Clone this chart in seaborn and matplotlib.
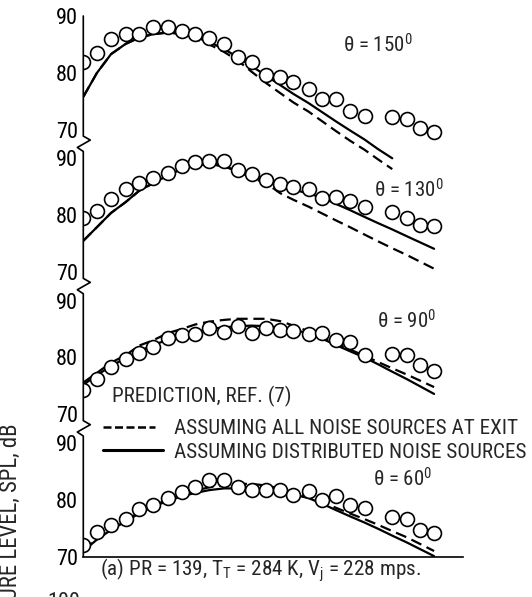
import numpy as np
import pandas as pd
import matplotlib
matplotlib.use("Agg")
import matplotlib.pyplot as plt
from matplotlib import font_manager
from matplotlib.lines import Line2D
import seaborn as sns

# ---------------- data ----------------
freq = [40, 50, 63, 80, 100, 125, 160, 200, 250, 315, 400, 500, 630, 800,
        1000, 1250, 1600, 2000, 2500, 3150, 4000, 5000, 6300, 8000, 10000, 12500]
angles = [150, 130, 90, 60]

meas_150 = [81.9, 83.5, 85.9, 86.9, 86.9, 88.1, 88.1, 87.4, 86.8, 86.2, 85.1, 82.8, 81.9,
            79.6, 79.3, 78.4, 77.1, 75.4, 75.4, 73.3, 72.5, np.nan, 72.3, 71.9, 70.4, 69.7]
meas_130 = [79.5, 80.8, 82.9, 84.6, 85.6, 86.5, 87.5, 88.6, 89.3, 89.5, 89.6, 88.0, 87.2,
            86.2, 85.5, 85.0, 84.6, 83.1, 83.2, 82.5, 81.5, np.nan, 80.5, 79.5, 78.3, 78.1]
meas_90 = [74.3, 76.3, 78.4, 79.7, 80.8, 81.8, 83.4, 84.0, 84.2, 85.2, 84.5, 85.5, 84.3,
           85.2, 84.9, 84.7, 84.2, 84.3, 83.1, 82.7, 80.4, np.nan, 80.6, 80.4, 78.7, 77.6]
meas_60 = [72.1, 74.4, 75.6, 76.6, 78.4, 79.1, 80.3, 81.3, 82.2, 83.4, 83.5, 82.2, 81.8,
           81.8, 81.8, 80.9, 81.5, 80.0, 80.6, 79.1, 78.6, np.nan, 76.9, 76.6, 74.7, 74.2]

# prediction: all noise sources at exit (dashed)
exit_150 = [75.8, 80.0, 83.3, 85.1, 86.2, 86.8, 87.1, 86.8, 86.0, 85.0, 83.7, 82.2, 80.2,
            78.2, 76.5, 74.8, 73.2, 71.5, 69.8, 68.1, 66.5, 64.8, 63.1]
exit_130 = [75.5, 77.9, 80.4, 82.3, 84.3, 85.6, 87.0, 88.1, 88.8, 89.0, 88.6, 87.7, 86.6,
            85.6, 83.9, 82.7, 81.5, 80.3, 79.1, 77.9, 76.6, 75.4, 74.2, 73.0, 71.8, 70.6]
exit_90 = [75.6, 77.3, 79.1, 80.4, 82.1, 83.0, 84.3, 85.0, 85.8, 86.3, 86.6, 86.8, 86.8,
           86.8, 86.4, 85.6, 84.6, 83.6, 82.5, 81.4, 80.3, 79.2, 78.1, 77.0, 75.9, 74.8]
exit_60 = [71.2, 73.2, 74.9, 76.4, 77.8, 79.0, 80.0, 80.9, 81.6, 82.2, 82.6, 82.8, 82.8,
           82.5, 82.0, 81.3, 80.5, 79.6, 78.6, 77.6, 76.6, 75.6, 74.5, 73.4, 72.2, 71.0]

# prediction: distributed noise sources (solid)
dist_150 = [75.8, 80.0, 83.3, 85.1, 86.2, 86.8, 87.1, 86.9, 86.3, 85.4, 84.2, 82.8, 81.2,
            79.5, 77.9, 76.3, 74.7, 73.1, 71.5, 69.9, 68.3, 66.6, 65.0]
dist_130 = [75.5, 77.9, 80.4, 82.3, 84.3, 85.6, 87.0, 88.1, 88.8, 89.0, 88.6, 87.8, 86.9,
            86.0, 85.2, 84.5, 83.8, 83.1, 82.0, 80.9, 79.7, 78.6, 77.5, 76.3, 75.2, 74.1]
dist_90 = [75.2, 76.9, 78.5, 79.9, 81.1, 82.2, 83.1, 83.9, 84.5, 85.0, 85.3, 85.5, 85.6,
           85.5, 85.2, 84.8, 84.3, 83.3, 82.2, 81.1, 80.0, 78.8, 77.5, 76.2, 74.9, 73.6]
dist_60 = [71.0, 73.0, 74.7, 76.2, 77.6, 78.8, 79.8, 80.6, 81.2, 81.7, 82.0, 82.0, 82.0,
           81.7, 81.4, 80.9, 80.3, 79.3, 78.2, 77.1, 76.0, 74.9, 73.7, 72.5, 71.3, 70.1]

y_ticks = [90, 80, 70]
x_ticks = [100, 200, 400, 1000, 2000, 4000, 10000, 20000]
panel_shift = 25.0

measured = [meas_150, meas_130, meas_90, meas_60]
exit_pred = [exit_150, exit_130, exit_90, exit_60]
dist_pred = [dist_150, dist_130, dist_90, dist_60]

# ---------------- fonts ----------------
sns.set_style("white")
entries = font_manager.fontManager.ttflist
names = {f.name for f in entries}
family, scale = "DejaVu Sans", 0.78
for p in ["Roboto Condensed", "Liberation Sans Narrow", "Arial Narrow",
          "Open Sans Condensed", "Noto Sans Condensed", "DejaVu Sans Condensed"]:
    if p in names:
        family, scale = p, 1.0
        break

plt.rcParams["font.family"] = [family, "DejaVu Sans"]
plt.rcParams["mathtext.fontset"] = "custom"
plt.rcParams["mathtext.rm"] = family
plt.rcParams["mathtext.it"] = family

fs = 15.2 * scale
fs_theta = 15 * scale
fs_tick = 16 * scale
fs_ylab = 16.4 * scale

W, H = 532, 597
fig = plt.figure(figsize=(W / 100, H / 100), dpi=100)
x0, x1 = 83.3, 462.8
ytop, ybot = 16.0, 556.7
ax = fig.add_axes([x0 / W, 1 - ybot / H, (x1 - x0) / W, (ybot - ytop) / H])

for k, ang in enumerate(angles):
    off = panel_shift * k
    n_e = len(exit_pred[k])
    d_exit = pd.DataFrame({"freq": freq[:n_e], "y": np.array(exit_pred[k]) - off})
    n_d = len(dist_pred[k])
    d_dist = pd.DataFrame({"freq": freq[:n_d], "y": np.array(dist_pred[k]) - off})
    d_meas = pd.DataFrame({"freq": freq, "y": np.array(measured[k]) - off}).dropna()
    sns.lineplot(data=d_exit, x="freq", y="y", ax=ax, color="black", lw=1.6,
                 linestyle=(0, (5, 2.6)), estimator=None, sort=False, zorder=2)
    sns.lineplot(data=d_dist, x="freq", y="y", ax=ax, color="black", lw=1.6,
                 estimator=None, sort=False, zorder=2)
    sns.scatterplot(data=d_meas, x="freq", y="y", ax=ax, marker="o", s=100,
                    color="white", edgecolor="black", linewidth=1.2, zorder=3)

ax.set_xscale("log")
ax.set_xlim(40, 20000)
ax.set_ylim(70 - panel_shift * 3, 90)
ax.set_xlabel("")
ax.set_ylabel("")

ax.set_xticks(x_ticks)
ax.set_xticklabels([""] * len(x_ticks))
ax.xaxis.set_minor_locator(matplotlib.ticker.NullLocator())
yt, yl = [], []
for k in range(len(angles)):
    for v in y_ticks:
        yt.append(v - panel_shift * k)
        yl.append(str(v))
ax.set_yticks(yt)
ax.set_yticklabels(yl)
ax.tick_params(axis="x", direction="in", length=13, width=1.2, colors="black")
ax.tick_params(axis="y", direction="in", length=13, width=1.2, labelsize=fs_tick,
               pad=4, colors="black")

for s in ["top", "right", "left"]:
    ax.spines[s].set_visible(False)
ax.spines["bottom"].set_linewidth(1.2)
ax.spines["bottom"].set_color("black")

# left axis with break marks between panels
xr = 40 * 10 ** (7 / 140.6)
xl = 40 * 10 ** (-6 / 140.6)
px, py = [40], [90]
for k in range(len(angles)):
    L = 70 - panel_shift * k
    px += [40]
    py += [L]
    if k < len(angles) - 1:
        px += [40, xr, xl, 40, 40]
        py += [L - 1.1, L - 1.8, L - 3.1, L - 3.8, L - 5]
ax.plot(px, py, color="black", lw=1.2, clip_on=False, zorder=4)


def fx(x):
    return x / W


def fy(y):
    return 1 - y / H


for ang, (tx, ty) in zip(angles, [(378, 45), (409, 190), (407, 321), (403, 479)]):
    fig.text(fx(tx), fy(ty), "\u03b8 = %d$^\\mathregular{0}$" % ang, fontsize=fs_theta,
             ha="center", va="center")

fig.text(fx(112), fy(396), "PREDICTION, REF. (7)", fontsize=fs, ha="left", va="center")
fig.add_artist(Line2D([fx(103), fx(155)], [fy(427), fy(427)], color="black", lw=1.8,
                      linestyle=(0, (3.2, 1.4))))
fig.text(fx(174), fy(428), "ASSUMING ALL NOISE SOURCES AT EXIT", fontsize=fs,
         ha="left", va="center")
fig.add_artist(Line2D([fx(103), fx(163)], [fy(450), fy(450)], color="black", lw=2.2))
fig.text(fx(174), fy(452), "ASSUMING DISTRIBUTED NOISE SOURCES", fontsize=fs,
         ha="left", va="center")

fig.text(fx(260), fy(570),
         "(a) PR = 139, T$_\\mathregular{T}$ = 284 K, V$_\\mathregular{j}$ = 228 mps.",
         fontsize=fs, ha="center", va="center")

fig.text(fx(10), fy(424), "SOUND PRESSURE LEVEL, SPL, dB", fontsize=fs_ylab, rotation=90,
         ha="center", va="top")
fig.text(fx(64), fy(592), "100", fontsize=fs_tick, ha="center", va="top")

fig.savefig("out.png", dpi=100)
